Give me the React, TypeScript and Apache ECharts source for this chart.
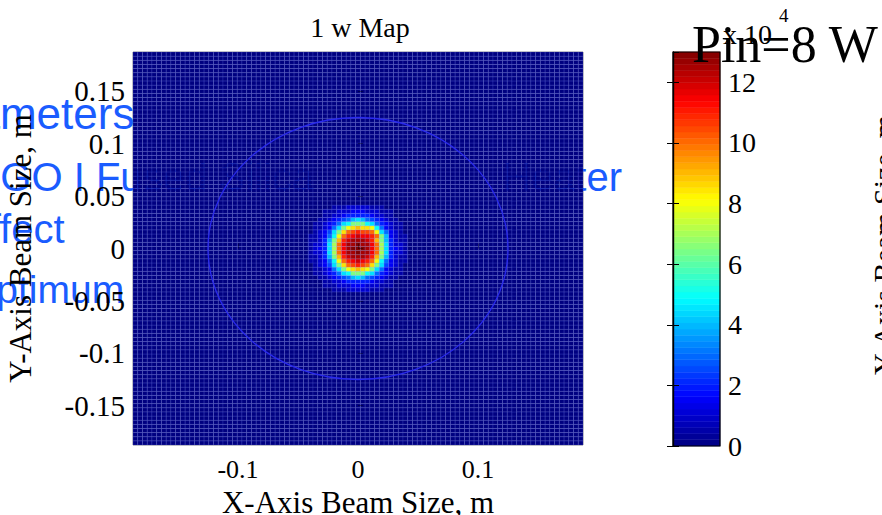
import { useEffect, useRef } from 'react';
import * as echarts from 'echarts';

// ---- data ----
const xRange = [-0.1875, 0.1875];
const yRange = [-0.1875, 0.1875];
const gridCount = 95; // cells per side of the intensity map
const spotCenterIndex = 47; // cell index of x = 0, y = 0
const backgroundValue = 0; // x10^4
// each character = level index; value = index * 0.5 (x10^4)
const levelCodes = '0123456789ABCDEFGHIJKLMNOPQ';
// beam spot, 21 x 21 cells around the centre, top row first
const spotRows = [
  '000001112222211100000',
  '000111222333222111000',
  '000112234444432211000',
  '001123456898654321100',
  '01123469ADDDA96432110',
  '0112369DGHIHHGA632110',
  '012359DHKLMLLKG963210',
  '11236AGKMNONNMKD83211',
  '11248DIMOPPPOMID84211',
  '12249EKNPPQPPNKE94221',
  '12349EKNPQQQPNKE94321',
  '12249EKNPPQPPNKE94221',
  '11248DIMOPPPOMID84211',
  '11236AGKMNONMKGA63211',
  '012359DHKLMLKHD953210',
  '0112369DGHIHGD9632110',
  '01123469ADDDA96432110',
  '001123456898654321100',
  '000112234444432211000',
  '000111222333222111000',
  '000001112222211100000',
];
const apertureRadius = 0.125; // m
const colorbarMin = 0;
const colorbarMax = 13; // x10^4
const colorbarLevels = 64;
const colorbarTickStep = 2;
const jetColors = ['#000080', '#0000ff', '#0080ff', '#00ffff', '#80ff80', '#ffff00', '#ff8000', '#ff0000', '#800000'];

const titleText = '1 w Map';
const xAxisTitle = 'X-Axis Beam Size, m';
const yAxisTitle = 'Y-Axis Beam Size, m';
const secondTitle = 'Pin=8 W';
const exponentBase = 'x 10';
const exponentPower = '4';
const slideLines = ['Parameters', 'LIGO I Fused Silica', 'Heater', 'Effect', 'Optimum'];

const SERIF = "'Liberation Serif', 'Times New Roman', serif";
const SANS = "'Liberation Sans', Arial, sans-serif";
const SLIDE_BLUE = '#1a5cff';

export default function App() {
  const ref = useRef<HTMLDivElement>(null);

  useEffect(() => {
    if (!ref.current) return;
    const chart = echarts.init(ref.current, null, { renderer: 'svg' });

    const cell = (xRange[1] - xRange[0]) / gridCount;
    const half = (spotRows.length - 1) / 2;
    const mapData: number[][] = [];
    for (let j = 0; j < gridCount; j++) {
      for (let i = 0; i < gridCount; i++) {
        const di = i - spotCenterIndex;
        const dj = j - spotCenterIndex;
        let v = backgroundValue;
        if (Math.abs(di) <= half && Math.abs(dj) <= half) {
          const row = spotRows[half - dj];
          v = levelCodes.indexOf(row[di + half]) * 0.5;
        }
        mapData.push([xRange[0] + (i + 0.5) * cell, yRange[0] + (j + 0.5) * cell, v]);
      }
    }

    const step = (colorbarMax - colorbarMin) / colorbarLevels;
    const barData: number[][] = [];
    for (let k = 0; k < colorbarLevels; k++) {
      const v = colorbarMin + (k + 0.5) * step;
      barData.push([0.5, v, v]);
    }

    const option: any = {
      animation: false,
      backgroundColor: '#ffffff',
      title: {
        text: titleText,
        left: 355,
        top: 8,
        textAlign: 'center',
        textStyle: { fontFamily: SERIF, fontSize: 28, fontWeight: 'normal', color: '#000' },
      },
      grid: [
        { left: 133, top: 52, width: 450, height: 393, show: true, borderColor: '#8a8a8a', borderWidth: 1, outerBoundsMode: 'none' },
        { left: 673, top: 52, width: 47, height: 394, show: true, borderColor: '#000', borderWidth: 1.2, z: 4, outerBoundsMode: 'none' },
      ],
      visualMap: {
        type: 'continuous',
        show: false,
        min: colorbarMin,
        max: colorbarMax,
        dimension: 2,
        seriesIndex: [0, 1],
        inRange: { color: jetColors },
      },
      xAxis: [
        {
          type: 'value',
          gridIndex: 0,
          min: xRange[0],
          max: xRange[1],
          splitNumber: 5,
          z: 3,
          axisLine: { show: false },
          axisTick: { show: true, inside: true, length: 5, lineStyle: { color: 'rgba(0,0,0,0.35)' } },
          splitLine: { show: false },
          axisLabel: { fontFamily: SERIF, fontSize: 26, color: '#000', margin: 11, showMinLabel: false, showMaxLabel: false },
          name: xAxisTitle,
          nameLocation: 'middle',
          nameGap: 40,
          nameTextStyle: { fontFamily: SERIF, fontSize: 31, color: '#000' },
        },
        { type: 'value', gridIndex: 1, min: 0, max: 1, show: false },
      ],
      yAxis: [
        {
          type: 'value',
          gridIndex: 0,
          min: yRange[0],
          max: yRange[1],
          splitNumber: 8,
          z: 3,
          axisLine: { show: false },
          axisTick: { show: true, inside: true, length: 5, lineStyle: { color: 'rgba(0,0,0,0.35)' } },
          splitLine: { show: false },
          axisLabel: { fontFamily: SERIF, fontSize: 29, color: '#000', margin: 8, showMinLabel: false, showMaxLabel: false },
          name: yAxisTitle,
          nameLocation: 'middle',
          nameGap: 97,
          nameTextStyle: { fontFamily: SERIF, fontSize: 31, color: '#000' },
        },
        {
          type: 'value',
          gridIndex: 1,
          position: 'right',
          min: colorbarMin,
          max: colorbarMax,
          interval: colorbarTickStep,
          z: 5,
          axisLine: { show: true, lineStyle: { color: '#000', width: 1.2 } },
          axisTick: { show: true, inside: true, length: 6, lineStyle: { color: '#000' } },
          splitLine: { show: false },
          axisLabel: { fontFamily: SERIF, fontSize: 28, color: '#000', margin: 8, showMaxLabel: false },
        },
        {
          type: 'value',
          gridIndex: 1,
          position: 'left',
          min: colorbarMin,
          max: colorbarMax,
          interval: colorbarTickStep,
          z: 5,
          axisLine: { show: true, lineStyle: { color: '#000', width: 1.2 } },
          axisTick: { show: true, inside: true, length: 6, lineStyle: { color: '#000' } },
          splitLine: { show: false },
          axisLabel: { show: false },
        },
      ],
      series: [
        {
          type: 'custom',
          name: 'intensity',
          xAxisIndex: 0,
          yAxisIndex: 0,
          clip: true,
          silent: true,
          encode: { x: 0, y: 1 },
          data: mapData,
          renderItem: (_p: any, api: any) => {
            const x = api.value(0);
            const y = api.value(1);
            const p = api.coord([x - cell / 2, y + cell / 2]);
            const s = api.size([cell, cell]);
            return {
              type: 'rect',
              shape: { x: p[0], y: p[1], width: s[0], height: s[1] },
              style: { fill: api.visual('color'), stroke: 'rgba(120,140,255,0.28)', lineWidth: 0.6 },
            };
          },
        },
        {
          type: 'custom',
          name: 'colorbar',
          xAxisIndex: 1,
          yAxisIndex: 1,
          silent: true,
          encode: { x: 0, y: 1 },
          data: barData,
          renderItem: (_p: any, api: any) => {
            const v = api.value(1);
            const p = api.coord([0, v + step / 2]);
            const s = api.size([1, step]);
            const c = api.visual('color');
            return {
              type: 'rect',
              shape: { x: p[0], y: p[1], width: s[0], height: s[1] },
              style: { fill: c, stroke: c, lineWidth: 0.5 },
            };
          },
        },
        {
          type: 'custom',
          name: 'aperture',
          xAxisIndex: 0,
          yAxisIndex: 0,
          silent: true,
          z: 4,
          encode: { x: 0, y: 1 },
          data: [[0, 0, apertureRadius]],
          renderItem: (_p: any, api: any) => {
            const c = api.coord([api.value(0), api.value(1)]);
            const s = api.size([api.value(2), api.value(2)]);
            return {
              type: 'ellipse',
              shape: { cx: c[0], cy: c[1], rx: s[0], ry: s[1] },
              style: { fill: 'none', stroke: '#2a2aee', lineWidth: 1.3 },
            };
          },
        },
      ],
      graphic: [
        { type: 'text', z: 0, x: -93, y: 113, style: { text: slideLines[0], fill: SLIDE_BLUE, fontFamily: SANS, fontSize: 44, align: 'left', verticalAlign: 'middle', textAlign: 'left', textVerticalAlign: 'middle' } },
        { type: 'text', z: 0, x: -33, y: 177, style: { text: slideLines[1], fill: SLIDE_BLUE, fontFamily: SANS, fontSize: 40, align: 'left', verticalAlign: 'middle', textAlign: 'left', textVerticalAlign: 'middle' } },
        { type: 'text', z: 0, x: 622, y: 177, style: { text: slideLines[2], fill: SLIDE_BLUE, fontFamily: SANS, fontSize: 40, align: 'right', verticalAlign: 'middle', textAlign: 'right', textVerticalAlign: 'middle' } },
        { type: 'text', z: 0, x: -37, y: 229, style: { text: slideLines[3], fill: SLIDE_BLUE, fontFamily: SANS, fontSize: 40, align: 'left', verticalAlign: 'middle', textAlign: 'left', textVerticalAlign: 'middle' } },
        { type: 'text', z: 0, x: -34, y: 289, style: { text: slideLines[4], fill: SLIDE_BLUE, fontFamily: SANS, fontSize: 39, align: 'left', verticalAlign: 'middle', textAlign: 'left', textVerticalAlign: 'middle' } },
        { type: 'text', z: 10, x: 723, y: 34, style: { text: exponentBase, fill: '#000', fontFamily: SERIF, fontSize: 28, align: 'left', verticalAlign: 'middle', textAlign: 'left', textVerticalAlign: 'middle' } },
        { type: 'text', z: 10, x: 779, y: 15, style: { text: exponentPower, fill: '#000', fontFamily: SERIF, fontSize: 19, align: 'left', verticalAlign: 'middle', textAlign: 'left', textVerticalAlign: 'middle' } },
        { type: 'text', z: 10, x: 692, y: 44, style: { text: secondTitle, fill: '#000', fontFamily: SERIF, fontSize: 52, align: 'left', verticalAlign: 'middle', textAlign: 'left', textVerticalAlign: 'middle' } },
        { type: 'text', z: 10, x: 883, y: 245, rotation: Math.PI / 2, style: { text: yAxisTitle, fill: '#000', fontFamily: SERIF, fontSize: 30, align: 'center', verticalAlign: 'middle', textAlign: 'center', textVerticalAlign: 'middle' } },
      ],
    };

    chart.setOption(option);
    return () => chart.dispose();
  }, []);

  return <div ref={ref} style={{ position: 'fixed', left: 0, top: 0, width: 882, height: 515 }} />;
}
